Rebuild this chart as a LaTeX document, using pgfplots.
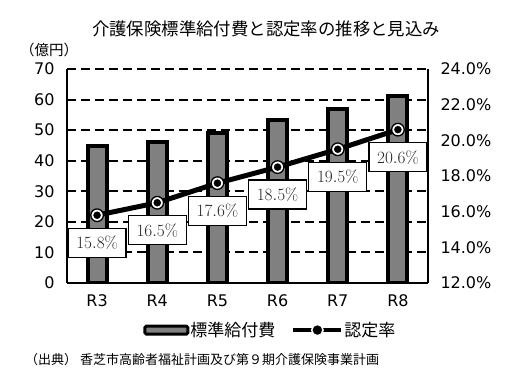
\documentclass[border=0pt]{standalone}
\usepackage{fontspec}
\usepackage{pgfplots}
\pgfplotsset{compat=1.18}
\newfontfamily\jp{Noto Sans CJK JP}
\newfontfamily\num{DejaVu Sans}

\begin{document}
\begin{tikzpicture}
\path[use as bounding box] (0,0) rectangle (523bp,386bp);
\node[font=\jp\fontsize{14.5bp}{16bp}\selectfont, inner sep=0pt] at (266bp,357bp) {\fontsize{17.4bp}{20bp}\selectfont 介護保険標準給付費と認定率の推移と見込み};
\node[font=\jp\fontsize{14.5bp}{16bp}\selectfont, inner sep=0pt] at (49bp,336bp) {（億円）};
\node[anchor=west, font=\jp\fontsize{13bp}{15bp}\selectfont, inner sep=0pt] at (25bp,26bp) {（出典）\ 香芝市高齢者福祉計画及び第９期介護保険事業計画};

\begin{axis}[
  at={(67bp,103bp)}, anchor=south west,
  width=361bp, height=214bp, scale only axis,
  xmin=-0.5, xmax=5.5, ymin=0, ymax=70,
  axis x line*=bottom, axis y line*=left,
  axis line style={line width=1.5bp, black},
  xtick={0,...,5}, xticklabels={R3,R4,R5,R6,R7,R8},
  ytick={0,10,...,70},
  yticklabels={0,10,20,30,40,50,60,70},
  major tick length=0pt,
  ymajorgrids, major grid style={black, line width=2bp, dash pattern=on 9bp off 5bp},
  tick label style={font=\num\fontsize{16bp}{18bp}\selectfont},
  xticklabel style={yshift=-8bp},
  yticklabel style={xshift=-9bp},
  ybar, bar width=19bp,
]
\addplot[fill=gray, draw=black, line width=4bp] coordinates {(0,44.8) (1,46.0) (2,49.2) (3,53.2) (4,57.0) (5,61.2)};
\end{axis}

\begin{axis}[
  at={(67bp,103bp)}, anchor=south west,
  width=361bp, height=214bp, scale only axis,
  xmin=-0.5, xmax=5.5, ymin=12, ymax=24,
  axis x line=none, axis y line*=right,
  axis line style={line width=1.5bp, black},
  ytick={12,14,...,24},
  yticklabels={12.0\%,14.0\%,16.0\%,18.0\%,20.0\%,22.0\%,24.0\%},
  major tick length=0pt,
  yticklabel style={font=\num\fontsize{16bp}{18bp}\selectfont, xshift=9bp},
  legend style={draw=none, fill=none, at={(0.562,-0.22)}, anchor=center,
    legend columns=-1, font=\jp\fontsize{17bp}{19bp}\selectfont,
    nodes={inner xsep=1bp},
    /tikz/every odd column/.append style={column sep=0bp},
    /tikz/every even column/.append style={column sep=15bp}},
]
\addlegendimage{legend image code/.code={\draw[fill=gray, line width=3bp, rounded corners=1.5bp] (0bp,-4bp) rectangle (43bp,4bp);}}
\addlegendentry{標準給付費}
\addplot[black, line width=5bp, mark=*, mark size=6.3bp,
  mark options={fill=white, draw=black, line width=1.3bp},
  legend image code/.code={\draw[line width=4bp] (0bp,0bp) -- (48bp,0bp); \fill[white] (24bp,0bp) circle (3.8bp); \fill[black] (24bp,0bp) circle (2bp);},
  nodes near coords={\pgfmathprintnumber[fixed,fixed zerofill,precision=1]{\pgfplotspointmeta}\%},
  every node near coord/.append style={anchor=center, yshift=-27.5bp, draw=black, fill=white, line width=1.2bp, minimum width=58bp, minimum height=29bp, inner sep=0pt, font=\fontsize{17bp}{19bp}\selectfont, text=black!85},
] coordinates {(0,15.8) (1,16.5) (2,17.6) (3,18.5) (4,19.5) (5,20.6)};
\addlegendentry{認定率}
\addplot[only marks, mark=*, mark size=3.5bp, black, forget plot] coordinates {(0,15.8) (1,16.5) (2,17.6) (3,18.5) (4,19.5) (5,20.6)};
\end{axis}
\end{tikzpicture}
\end{document}
